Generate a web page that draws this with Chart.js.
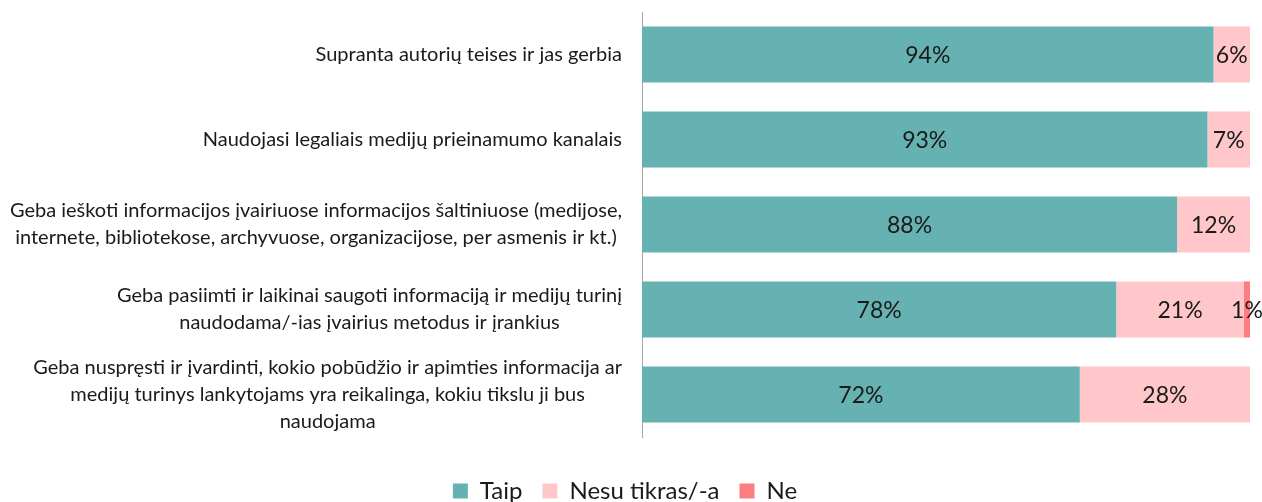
<!DOCTYPE html>
<html>
<head>
<meta charset="utf-8">
<script src="https://cdn.jsdelivr.net/npm/chart.js@4"></script>
<style>
  html, body { margin: 0; padding: 0; background: #fff; }
  #wrap { width: 1262px; height: 502px; }
</style>
</head>
<body>
<div id="wrap"><canvas id="chart"></canvas></div>
<script>
const categories = [
  ["Supranta autorių teises ir jas gerbia"],
  ["Naudojasi legaliais medijų prieinamumo kanalais"],
  ["Geba ieškoti informacijos įvairiuose informacijos šaltiniuose (medijose,",
   "internete, bibliotekose, archyvuose, organizacijose, per asmenis ir kt.)"],
  ["Geba pasiimti ir laikinai saugoti informaciją ir medijų turinį",
   "naudodama/-ias įvairius metodus ir įrankius"],
  ["Geba nuspręsti ir įvardinti, kokio pobūdžio ir apimties informacija ar",
   "medijų turinys lankytojams yra reikalinga, kokiu tikslu ji bus",
   "naudojama"]
];
const seriesNames = ["Taip", "Nesu tikras/-a", "Ne"];
const taip = [94, 93, 88, 78, 72];
const nesu = [6, 7, 12, 21, 28];
const ne = [0, 0, 0, 1, 0];
const colors = ["#66b1b1", "#ffc7ca", "#ff7c80"];

const FONT = "Lato, 'Open Sans', sans-serif";

// left category labels: block right-aligned, lines centred within the block
const categoryLabels = {
  id: "categoryLabels",
  afterDraw(chart) {
    const ctx = chart.ctx;
    const y = chart.scales.y;
    const right = chart.chartArea.left - 20;
    const lineH = 27;
    ctx.save();
    ctx.font = "20px " + FONT;
    ctx.fillStyle = "#1a1a1a";
    ctx.textAlign = "center";
    ctx.textBaseline = "middle";
    categories.forEach((lines, i) => {
      const cy = y.getPixelForTick(i);
      const w = Math.max(...lines.map(l => ctx.measureText(l).width));
      const cx = right - w / 2;
      const top = cy - (lines.length - 1) * lineH / 2;
      lines.forEach((l, j) => ctx.fillText(l, cx, top + j * lineH));
    });
    ctx.restore();
  }
};

// percentage labels in the middle of each segment
const valueLabels = {
  id: "valueLabels",
  afterDatasetsDraw(chart) {
    const ctx = chart.ctx;
    ctx.save();
    ctx.font = "23px " + FONT;
    ctx.fillStyle = "#1a1a1a";
    ctx.textAlign = "center";
    ctx.textBaseline = "middle";
    chart.data.datasets.forEach((ds, di) => {
      chart.getDatasetMeta(di).data.forEach((bar, i) => {
        const v = ds.data[i];
        if (!v) return;
        const p = bar.getProps(["x", "y", "base"], true);
        ctx.fillText(v + "%", (p.x + p.base) / 2, p.y + 1);
      });
    });
    ctx.restore();
  }
};

new Chart(document.getElementById("chart"), {
  type: "bar",
  data: {
    labels: categories.map(c => c.join(" ")),
    datasets: [
      { label: seriesNames[0], data: taip, backgroundColor: colors[0] },
      { label: seriesNames[1], data: nesu, backgroundColor: colors[1] },
      { label: seriesNames[2], data: ne, backgroundColor: colors[2] }
    ]
  },
  options: {
    indexAxis: "y",
    responsive: true,
    maintainAspectRatio: false,
    animation: false,
    layout: { padding: { top: 12, right: 12, left: 0, bottom: -11 } },
    datasets: {
      bar: { categoryPercentage: 1, barPercentage: 0.66, borderWidth: 0 }
    },
    scales: {
      x: {
        stacked: true,
        min: 0,
        max: 100,
        grid: { display: false },
        border: { display: false },
        ticks: { display: false },
        afterFit: s => { s.height = 22; }
      },
      y: {
        stacked: true,
        grid: { display: false },
        border: { display: true, color: "#a6a6a6", width: 1 },
        ticks: { display: false },
        afterFit: s => { s.width = 642; }
      }
    },
    plugins: {
      legend: {
        position: "bottom",
        labels: {
          boxWidth: 15,
          boxHeight: 15,
          padding: 20,
          color: "#1a1a1a",
          font: { family: FONT, size: 24 }
        }
      },
      tooltip: { enabled: false }
    }
  },
  plugins: [categoryLabels, valueLabels]
});
</script>
</body>
</html>
